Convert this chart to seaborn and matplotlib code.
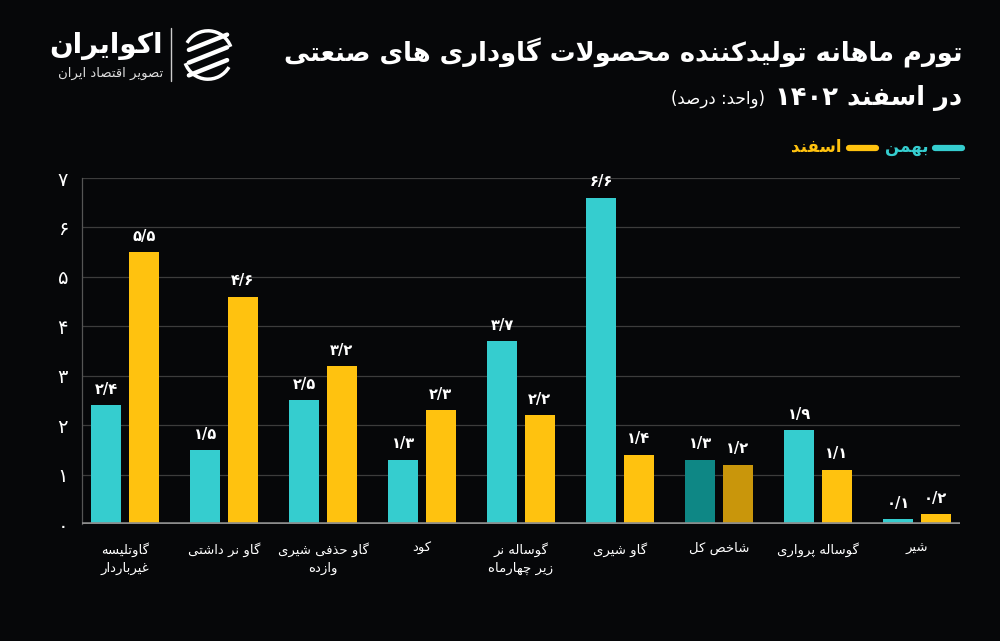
import re
import matplotlib
matplotlib.use("Agg")
import matplotlib.pyplot as plt
import seaborn as sns
import pandas as pd
from matplotlib.lines import Line2D
from matplotlib.patches import Arc

# ---------------- data ----------------
categories = ['گاوتلیسه\nغیرباردار', 'گاو نر داشتی', 'گاو حذفی شیری\nوازده', 'کود',
              'گوساله نر\nزیر چهارماه', 'گاو شیری', 'شاخص کل', 'گوساله پرواری', 'شیر']
bahman = [2.4, 1.5, 2.5, 1.3, 3.7, 6.6, 1.3, 1.9, 0.1]
esfand = [5.5, 4.6, 3.2, 2.3, 2.2, 1.4, 1.2, 1.1, 0.2]
series_names = ['بهمن', 'اسفند']
y_ticks = [0, 1, 2, 3, 4, 5, 6, 7]
title1 = 'تورم ماهانه تولیدکننده محصولات گاوداری های صنعتی'
title2_bold = 'در اسفند ۱۴۰۲'
title2_unit = '(واحد: درصد)'
logo_name = 'اکوایران'
logo_sub = 'تصویر اقتصاد ایران'

# ---------------- minimal Persian shaping ----------------
F = {
    'ا': ('\uFE8D', '\uFE8E', None, None), 'آ': ('\uFE81', '\uFE82', None, None),
    'ب': ('\uFE8F', '\uFE90', '\uFE91', '\uFE92'), 'پ': ('\uFB56', '\uFB57', '\uFB58', '\uFB59'),
    'ت': ('\uFE95', '\uFE96', '\uFE97', '\uFE98'), 'ث': ('\uFE99', '\uFE9A', '\uFE9B', '\uFE9C'),
    'ج': ('\uFE9D', '\uFE9E', '\uFE9F', '\uFEA0'), 'چ': ('\uFB7A', '\uFB7B', '\uFB7C', '\uFB7D'),
    'ح': ('\uFEA1', '\uFEA2', '\uFEA3', '\uFEA4'), 'خ': ('\uFEA5', '\uFEA6', '\uFEA7', '\uFEA8'),
    'د': ('\uFEA9', '\uFEAA', None, None), 'ذ': ('\uFEAB', '\uFEAC', None, None),
    'ر': ('\uFEAD', '\uFEAE', None, None), 'ز': ('\uFEAF', '\uFEB0', None, None),
    'ژ': ('\uFB8A', '\uFB8B', None, None),
    'س': ('\uFEB1', '\uFEB2', '\uFEB3', '\uFEB4'), 'ش': ('\uFEB5', '\uFEB6', '\uFEB7', '\uFEB8'),
    'ص': ('\uFEB9', '\uFEBA', '\uFEBB', '\uFEBC'), 'ض': ('\uFEBD', '\uFEBE', '\uFEBF', '\uFEC0'),
    'ط': ('\uFEC1', '\uFEC2', '\uFEC3', '\uFEC4'), 'ظ': ('\uFEC5', '\uFEC6', '\uFEC7', '\uFEC8'),
    'ع': ('\uFEC9', '\uFECA', '\uFECB', '\uFECC'), 'غ': ('\uFECD', '\uFECE', '\uFECF', '\uFED0'),
    'ف': ('\uFED1', '\uFED2', '\uFED3', '\uFED4'), 'ق': ('\uFED5', '\uFED6', '\uFED7', '\uFED8'),
    'ک': ('\uFB8E', '\uFB8F', '\uFB90', '\uFB91'), 'گ': ('\uFB92', '\uFB93', '\uFB94', '\uFB95'),
    'ل': ('\uFEDD', '\uFEDE', '\uFEDF', '\uFEE0'), 'م': ('\uFEE1', '\uFEE2', '\uFEE3', '\uFEE4'),
    'ن': ('\uFEE5', '\uFEE6', '\uFEE7', '\uFEE8'), 'و': ('\uFEED', '\uFEEE', None, None),
    'ه': ('\uFEE9', '\uFEEA', '\uFEEB', '\uFEEC'), 'ی': ('\uFBFC', '\uFBFD', '\uFBFE', '\uFBFF'),
}


def _joins_next(c):
    return c in F and F[c][2] is not None


def shape(text):
    ch = list(text)
    n = len(ch)
    out = []
    i = 0
    while i < n:
        c = ch[i]
        if c not in F:
            out.append(c)
            i += 1
            continue
        prev = ch[i - 1] if i > 0 else None
        pj = prev is not None and _joins_next(prev)
        if c == 'ل' and i + 1 < n and ch[i + 1] in ('ا', 'آ'):
            lig = ('\uFEFB', '\uFEFC') if ch[i + 1] == 'ا' else ('\uFEF5', '\uFEF6')
            out.append(lig[1] if pj else lig[0])
            i += 2
            continue
        nxt = ch[i + 1] if i + 1 < n else None
        nj = nxt is not None and nxt in F and _joins_next(c)
        iso, fin, ini, med = F[c]
        if pj and nj:
            g = med
        elif pj:
            g = fin
        elif nj:
            g = ini
        else:
            g = iso
        out.append(g)
        i += 1
    return ''.join(out)


def fa(text):
    lines = []
    for line in text.split('\n'):
        s = shape(line)[::-1]
        s = re.sub(r'[۰-۹0-9/٫.]+', lambda m: m.group(0)[::-1], s)
        s = s.translate(str.maketrans({'(': ')', ')': '('}))
        lines.append(s)
    return '\n'.join(lines)


def fa_num(v):
    s = ('%g' % v).replace('.', '/')
    return s.translate(str.maketrans('0123456789', '۰۱۲۳۴۵۶۷۸۹'))


# ---------------- style ----------------
BG = '#060709'
CYAN = '#35cdcf'
YELLOW = '#ffc20f'
CYAN_D = '#0e8785'
YELLOW_D = '#c9960b'
sns.set_theme(style='dark')
plt.rcParams['font.family'] = ['DejaVu Sans']

df = pd.DataFrame({
    'cat': categories * 2,
    'val': bahman + esfand,
    'series': [series_names[0]] * len(categories) + [series_names[1]] * len(categories),
})

fig = plt.figure(figsize=(10, 6.41), dpi=100, facecolor=BG)
ax = fig.add_axes([0.082, 0.1825, 0.878, 0.5398])
ax.set_facecolor(BG)

sns.barplot(data=df, x='cat', y='val', hue='series', order=categories,
            hue_order=series_names, palette=[CYAN, YELLOW], width=0.76, gap=0.2,
            saturation=1, legend=False, ax=ax, zorder=3, errorbar=None,
            linewidth=0, edgecolor='none')

# darker colours for the overall index
idx_total = categories.index('شاخص کل')
for cont, dcol in zip(ax.containers, [CYAN_D, YELLOW_D]):
    cont.patches[idx_total].set_facecolor(dcol)
    for p, v in zip(cont.patches, cont.datavalues):
        ax.annotate(fa_num(v), (p.get_x() + p.get_width() / 2, v), xytext=(0, 6),
                    textcoords='offset points', ha='center', va='bottom',
                    color='white', fontsize=10.5, fontweight='bold', zorder=5)

ax.set_xlim(-0.434, 8.434)
ax.set_ylim(0, 7)
ax.set_yticks(y_ticks)
ax.set_yticklabels([fa_num(t) for t in y_ticks], color='white', fontsize=14)
ax.set_xticks(range(len(categories)))
ax.set_xticklabels([fa(c) for c in categories], color='white', fontsize=9.5, linespacing=1.5)
ax.tick_params(axis='x', length=0, pad=13)
ax.tick_params(axis='y', length=0, pad=10)
ax.set_xlabel('')
ax.set_ylabel('')
ax.grid(axis='y', color='#3c3c3c', linewidth=0.9, zorder=0)
ax.grid(axis='x', visible=False)
for s in ['top', 'right', 'bottom']:
    ax.spines[s].set_visible(False)
ax.spines['left'].set_color('#555555')
ax.spines['left'].set_linewidth(0.9)
ax.axhline(0, color='#8c8c8c', linewidth=2.6, zorder=4)

# ---------------- titles ----------------
def fy(py):
    return 1 - py / 641


fig.text(0.962, fy(53), fa(title1), ha='right', va='center', color='white',
         fontsize=18.5, fontweight='bold')
t2 = fig.text(0.962, fy(98), fa(title2_bold), ha='right', va='center', color='white',
              fontsize=18.5, fontweight='bold')
fig.canvas.draw()
bb = t2.get_window_extent()
fig.text((bb.x0 - 10) / 1000, fy(99), fa(title2_unit), ha='right', va='center',
         color='white', fontsize=12)

# legend (RTL, top right)
fig.add_artist(Line2D([0.935, 0.962], [fy(148), fy(148)], color=CYAN, linewidth=4.5,
                      solid_capstyle='round', transform=fig.transFigure))
fig.text(0.928, fy(147), fa(series_names[0]), ha='right', va='center', color=CYAN,
         fontsize=12, fontweight='bold')
fig.add_artist(Line2D([0.849, 0.876], [fy(148), fy(148)], color=YELLOW, linewidth=4.5,
                      solid_capstyle='round', transform=fig.transFigure))
fig.text(0.841, fy(147), fa(series_names[1]), ha='right', va='center', color=YELLOW,
         fontsize=12, fontweight='bold')

# ---------------- logo ----------------
fig.text(0.163, fy(46), fa(logo_name), ha='right', va='center', color='white',
         fontsize=20, fontweight='bold')
fig.text(0.163, fy(73), fa(logo_sub), ha='right', va='center', color='#dddddd',
         fontsize=9.5)
fig.add_artist(Line2D([0.171, 0.171], [fy(28), fy(81)], color='#cccccc', linewidth=1,
                      transform=fig.transFigure))
lax = fig.add_axes([0.180, fy(83), 0.056, 0.056 * 1000 / 641])
lax.set_xlim(-1.1, 1.1)
lax.set_ylim(-1.1, 1.1)
lax.set_aspect('equal')
lax.axis('off')
lax.add_patch(Arc((0, 0), 1.9, 1.9, theta1=200, theta2=330, color='white', lw=2.5))
lax.add_patch(Arc((0, 0), 1.9, 1.9, theta1=20, theta2=150, color='white', lw=2.5))
for dy in (-0.5, 0.0, 0.5):
    lax.plot([-0.75, 0.75], [dy - 0.3, dy + 0.3], color='white', lw=3.2,
             solid_capstyle='round')

fig.savefig('out.png', dpi=100, facecolor=BG)
